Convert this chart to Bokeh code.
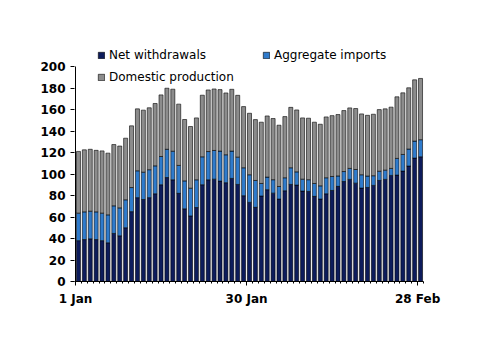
from bokeh.plotting import figure
from bokeh.models import ColumnDataSource, Range1d, FixedTicker, Legend, LegendItem
from bokeh.embed import file_html
from bokeh.resources import INLINE

# Days from 1 Jan to 28 Feb
days = list(range(59))
tick_days = [0, 29, 58]
tick_labels = ["1 Jan", "30 Jan", "28 Feb"]

net_withdrawals = [38, 39, 39.7, 39, 38, 36, 44.7, 42.5, 50, 65,
                   78, 76.3, 78, 81.6, 90, 96.7, 94.6, 82, 67.6, 61,
                   68.8, 90, 94.6, 95.2, 93.4, 91.9, 95.9, 90.3, 79.8, 73.6,
                   69, 79.5, 85.4, 82.2, 76.7, 84.4, 90.3, 89.7, 84.1, 83.8,
                   79.2, 76.7, 81.6, 84.7, 88.5, 93, 95, 91.5, 86.9, 87.5,
                   89.4, 94, 95, 98.7, 99, 102.7, 107.4, 114.8, 116]
aggregate_imports = [25.6, 25.8, 25.7, 25.8, 25.6, 26, 25.7, 26, 26, 22.4,
                     25, 25.4, 26, 26, 26.3, 26.3, 26.6, 26, 26, 25.8,
                     25.8, 26, 26.3, 26.7, 27.9, 26, 25.4, 25.4, 26, 25.7,
                     25, 11.7, 11.7, 12.5, 11.7, 12.1, 15.5, 12.3, 11.1, 10.9,
                     12, 12.3, 14.9, 13, 9.7, 9.3, 10.2, 12.7, 12.4, 10.6,
                     9, 8.6, 8.6, 6.5, 15.5, 15.5, 15.8, 15.8, 15.9]
domestic_production = [57.4, 57.7, 57.6, 57.2, 57.9, 57.4, 57, 57.5, 57.3, 57.4,
                       57.6, 57.7, 57.6, 58, 57.3, 56.8, 57.7, 57, 57.1, 57.4,
                       57.6, 57.3, 57.3, 57.2, 57.2, 57.5, 57.5, 57.5, 56.9, 57.2,
                       56.6, 57, 56.9, 56.9, 57, 56.9, 56.2, 57.6, 57, 57.2,
                       57, 57.3, 56.6, 56.6, 57.1, 56.7, 56.3, 56.7, 56.6, 56.5,
                       57.2, 57.3, 57, 57, 57.3, 57.3, 57, 57, 57]
y_ticks = list(range(0, 201, 20))
y_max = 200

series = ["net", "imports", "domestic"]
names = ["Net withdrawals", "Aggregate imports", "Domestic production"]
colors = ["#0d1c5c", "#2f7bcc", "#8c8c8c"]

source = ColumnDataSource(dict(
    x=[d + 0.5 for d in days],
    net=net_withdrawals,
    imports=aggregate_imports,
    domestic=domestic_production,
))

# frame extends above 200 to leave room for the legend (which is clipped to the frame)
p = figure(width=500, height=354, output_backend="svg", toolbar_location=None,
           x_range=Range1d(-0.17, 59), y_range=Range1d(0, 224.2),
           min_border_left=74, min_border_right=77, min_border_top=40, min_border_bottom=73)
p.outline_line_color = None
p.xgrid.grid_line_color = None
p.ygrid.grid_line_color = None
p.background_fill_color = "white"
p.border_fill_color = "white"

renderers = p.vbar_stack(series, x="x", width=0.68, source=source,
                         fill_color=colors, line_color="black", line_width=0.6)

# y axis line only up to 200
p.segment(x0=[0], y0=[0], x1=[0], y1=[y_max], line_color="black", line_width=1)

font = "DejaVu Sans"
p.xaxis.ticker = FixedTicker(ticks=tick_days, minor_ticks=list(range(60)))
p.xaxis.major_label_overrides = {d: l for d, l in zip(tick_days, tick_labels)}
p.yaxis.ticker = FixedTicker(ticks=y_ticks)
for ax in (p.xaxis[0], p.yaxis[0]):
    ax.axis_line_color = "black"
    ax.axis_line_width = 1
    ax.major_tick_line_color = "black"
    ax.major_tick_out = 4
    ax.major_tick_in = 0
    ax.major_label_text_font = font
    ax.major_label_text_font_style = "bold"
    ax.major_label_text_font_size = "12px"
    ax.major_label_text_color = "black"
p.yaxis.axis_line_color = None
p.xaxis.minor_tick_out = 2
p.xaxis.minor_tick_in = 0
p.xaxis.minor_tick_line_color = "black"
p.yaxis.minor_tick_line_color = None
p.xaxis.major_label_standoff = 6
p.yaxis.major_label_standoff = 5

def make_legend(items, loc):
    lg = Legend(items=items, location=loc, orientation="vertical",
                glyph_width=8, glyph_height=8, label_standoff=4,
                label_text_font=font, label_text_font_size="12px",
                label_text_color="black", label_height=15, spacing=7,
                padding=0, margin=0, border_line_color=None,
                background_fill_alpha=0)
    return lg

leg1 = make_legend([LegendItem(label=names[0], renderers=[renderers[0]]),
                    LegendItem(label=names[2], renderers=[renderers[2]])], (23, 197))
leg2 = make_legend([LegendItem(label=names[1], renderers=[renderers[1]])], (188, 219))
p.add_layout(leg1, "center")
p.add_layout(leg2, "center")

open("out.html", "w").write(file_html(p, INLINE))
